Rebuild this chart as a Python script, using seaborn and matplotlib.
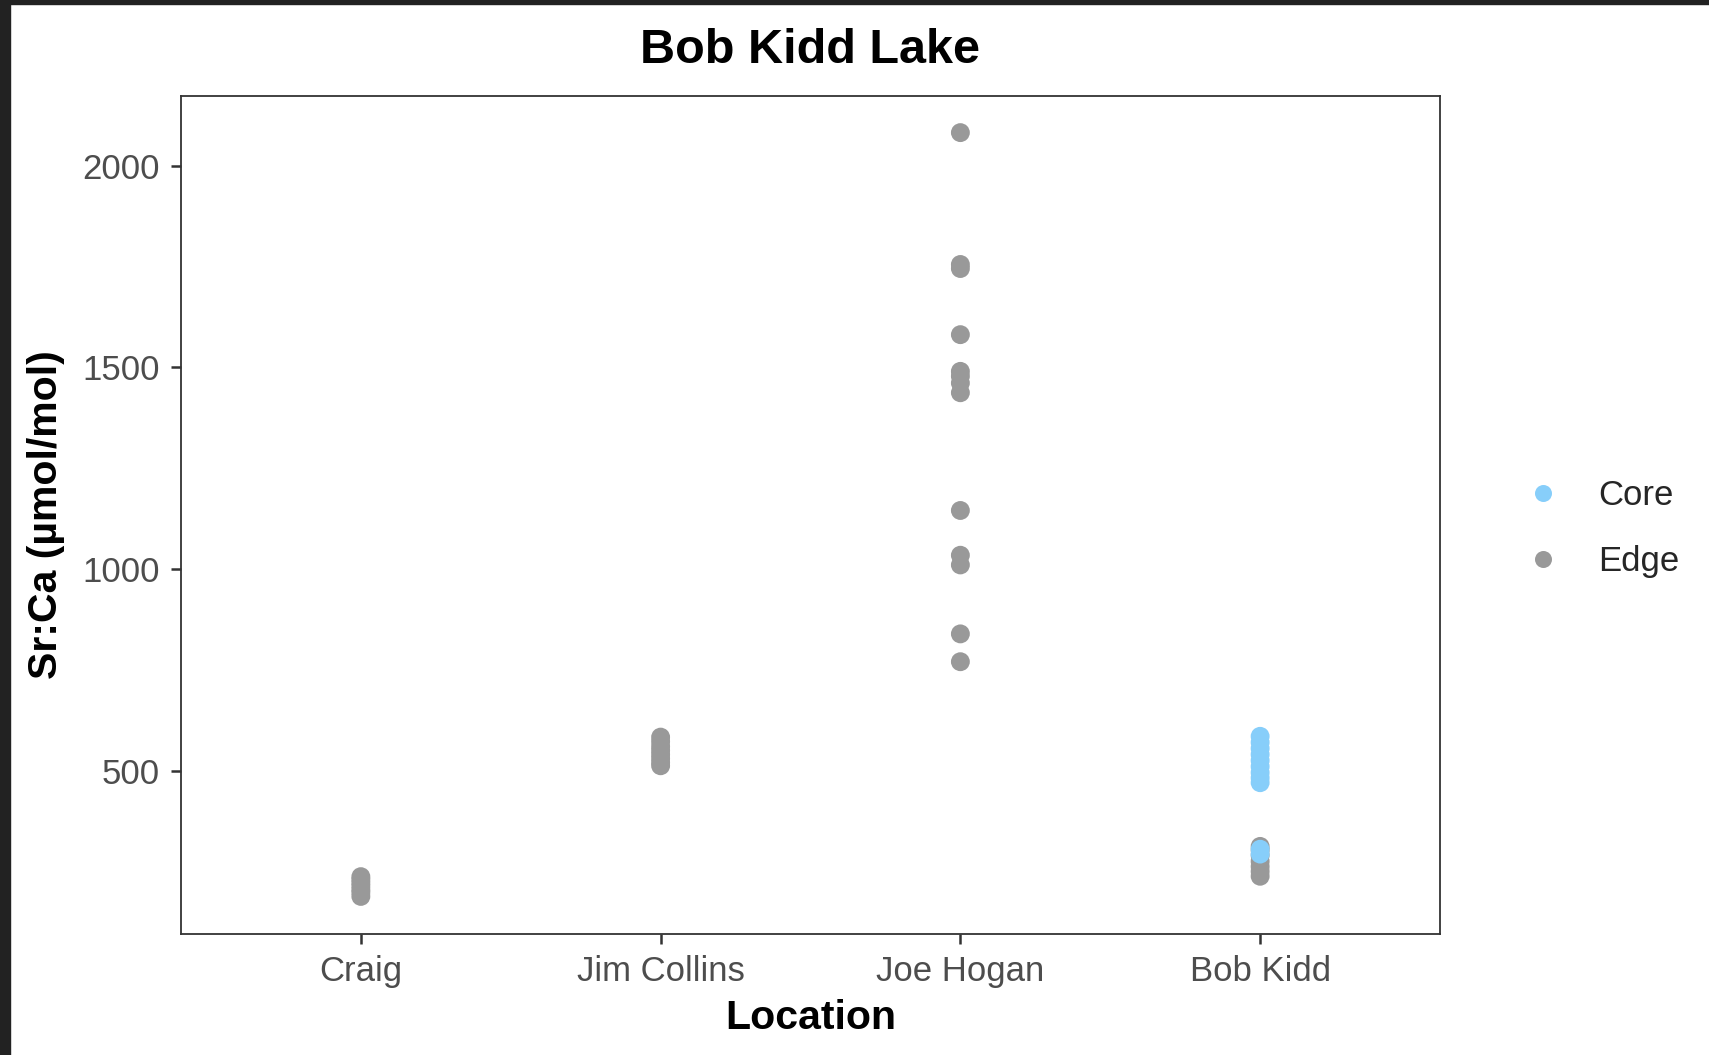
import matplotlib
matplotlib.use("Agg")
import matplotlib.pyplot as plt
from matplotlib.patches import Rectangle
import seaborn as sns
import pandas as pd

# Sr:Ca (µmol/mol) by sampling location and otolith region
locations = ["Craig", "Jim Collins", "Joe Hogan", "Bob Kidd"]
craig_edge = [188, 198, 205, 214, 222, 230, 237]
jim_collins_edge = [512, 520, 530, 540, 550, 560, 572, 583]
joe_hogan_edge = [2082, 1755, 1745, 1581, 1490, 1478, 1461, 1437,
                  1145, 1034, 1010, 839, 770]
bob_kidd_edge = [238, 250, 262, 275, 290, 303, 312]
bob_kidd_core = [470, 482, 495, 510, 525, 540, 555, 570, 585, 293, 305]
regions = ["Core", "Edge"]
region_colors = {"Core": "#87CEFA", "Edge": "#999999"}

rows = []
for loc, vals, reg in [("Craig", craig_edge, "Edge"),
                       ("Jim Collins", jim_collins_edge, "Edge"),
                       ("Joe Hogan", joe_hogan_edge, "Edge"),
                       ("Bob Kidd", bob_kidd_edge, "Edge"),
                       ("Bob Kidd", bob_kidd_core, "Core")]:
    for v in vals:
        rows.append({"Location": loc, "Region": reg, "SrCa": v})
df = pd.DataFrame(rows)
df["Location"] = pd.Categorical(df["Location"], categories=locations, ordered=True)

sns.set_theme(style="white")
plt.rcParams["font.family"] = ["Liberation Sans", "DejaVu Sans"]

fig = plt.figure(figsize=(17.09, 10.55), dpi=100)
ax = fig.add_axes([181 / 1709, 1 - 934 / 1055, (1440 - 181) / 1709, (934 - 96) / 1055])

x_pos = df["Location"].cat.codes
sns.scatterplot(x=x_pos, y=df["SrCa"], hue=df["Region"], hue_order=regions,
                palette=region_colors, s=185, linewidth=0, ax=ax, legend=True)

ax.set_xlim(-0.6, 3.6)
ax.set_ylim(94.8, 2172.8)
ax.set_xticks(range(len(locations)))
ax.set_xticklabels(locations)
ax.set_yticks([500, 1000, 1500, 2000])

ax.tick_params(axis="both", which="both", bottom=True, left=True, direction="out",
               length=7, width=1.8, color="#333333",
               labelsize=25, labelcolor="#4D4D4D")
ax.tick_params(axis="x", pad=8)
ax.tick_params(axis="y", pad=8)
for sp in ax.spines.values():
    sp.set_visible(True)
    sp.set_color("#333333")
    sp.set_linewidth(1.3)

ax.set_xlabel("Location", fontsize=29.5, fontweight="bold", color="black", labelpad=8)
ax.set_ylabel("Sr:Ca (µmol/mol)", fontsize=29.5, fontweight="bold", color="black", labelpad=13)
ax.set_title("Bob Kidd Lake", fontsize=35, fontweight="bold", color="black", pad=24)

handles, labels = ax.get_legend_handles_labels()
ax.legend(handles, labels, loc="center left", bbox_to_anchor=(1.043, 0.484),
          frameon=False, fontsize=25, markerscale=0.9, handletextpad=0.6,
          labelspacing=0.95, borderaxespad=0)

# dark window edge along the top and left
fig.patches.append(Rectangle((0, 0), 10 / 1709, 1, transform=fig.transFigure,
                             color="#222222", zorder=10))
fig.patches.append(Rectangle((0, 1 - 4 / 1055), 1, 4 / 1055, transform=fig.transFigure,
                             color="#222222", zorder=10))

fig.savefig("out.png", dpi=100)
